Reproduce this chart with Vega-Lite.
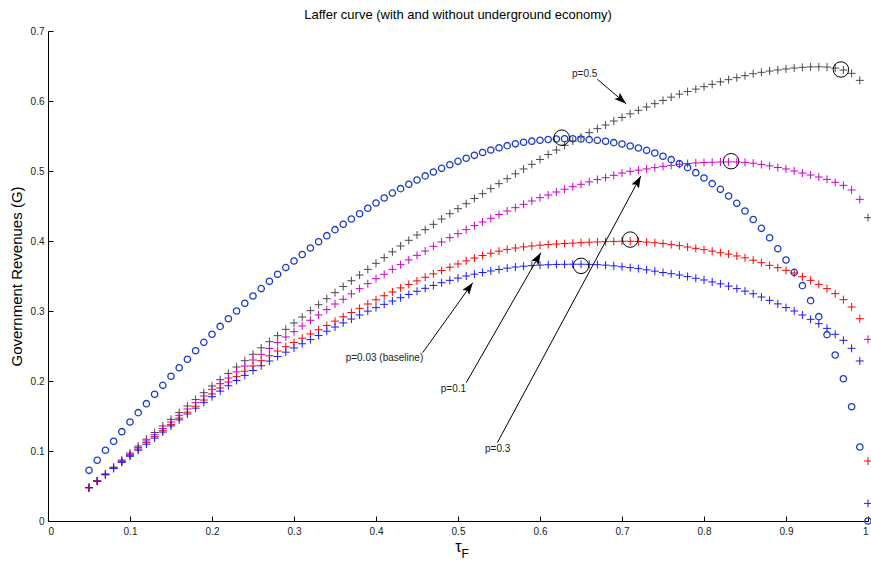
{
"$schema":"https://vega.github.io/schema/vega-lite/v6.json",
"width":820,"height":490,"autosize":"none",
"padding":{"left":48,"top":31,"right":3,"bottom":40},
"background":"white",
"config":{"view":{"stroke":null},"font":"Liberation Sans"},
"title":{"text":"Laffer curve (with and without underground economy)","fontSize":13,"fontWeight":"normal","font":"Liberation Sans","color":"#000000","offset":4,"anchor":"middle"},
"datasets":{
"series":[
{"s":"c","t":0.05,"g":0.0724},{"s":"c","t":0.06,"g":0.0867},{"s":"c","t":0.07,"g":0.1010},{"s":"c","t":0.08,"g":0.1140},{"s":"c","t":0.09,"g":0.1276},{"s":"c","t":0.10,"g":0.1414},{"s":"c","t":0.11,"g":0.1548},{"s":"c","t":0.12,"g":0.1676},{"s":"c","t":0.13,"g":0.1810},{"s":"c","t":0.14,"g":0.1938},
{"s":"c","t":0.15,"g":0.2067},{"s":"c","t":0.16,"g":0.2190},{"s":"c","t":0.17,"g":0.2310},{"s":"c","t":0.18,"g":0.2433},{"s":"c","t":0.19,"g":0.2552},{"s":"c","t":0.20,"g":0.2667},{"s":"c","t":0.21,"g":0.2780},{"s":"c","t":0.22,"g":0.2890},{"s":"c","t":0.23,"g":0.3000},{"s":"c","t":0.24,"g":0.3110},
{"s":"c","t":0.25,"g":0.3214},{"s":"c","t":0.26,"g":0.3320},{"s":"c","t":0.27,"g":0.3424},{"s":"c","t":0.28,"g":0.3524},{"s":"c","t":0.29,"g":0.3620},{"s":"c","t":0.30,"g":0.3714},{"s":"c","t":0.31,"g":0.3808},{"s":"c","t":0.32,"g":0.3900},{"s":"c","t":0.33,"g":0.3990},{"s":"c","t":0.34,"g":0.4076},
{"s":"c","t":0.35,"g":0.4162},{"s":"c","t":0.36,"g":0.4240},{"s":"c","t":0.37,"g":0.4314},{"s":"c","t":0.38,"g":0.4390},{"s":"c","t":0.39,"g":0.4467},{"s":"c","t":0.40,"g":0.4543},{"s":"c","t":0.41,"g":0.4614},{"s":"c","t":0.42,"g":0.4684},{"s":"c","t":0.43,"g":0.4748},{"s":"c","t":0.44,"g":0.4810},
{"s":"c","t":0.45,"g":0.4871},{"s":"c","t":0.46,"g":0.4930},{"s":"c","t":0.47,"g":0.4986},{"s":"c","t":0.48,"g":0.5038},{"s":"c","t":0.49,"g":0.5090},{"s":"c","t":0.50,"g":0.5138},{"s":"c","t":0.51,"g":0.5182},{"s":"c","t":0.52,"g":0.5224},{"s":"c","t":0.53,"g":0.5265},{"s":"c","t":0.54,"g":0.5300},
{"s":"c","t":0.55,"g":0.5333},{"s":"c","t":0.56,"g":0.5362},{"s":"c","t":0.57,"g":0.5388},{"s":"c","t":0.58,"g":0.5410},{"s":"c","t":0.59,"g":0.5426},{"s":"c","t":0.60,"g":0.5440},{"s":"c","t":0.61,"g":0.5450},{"s":"c","t":0.62,"g":0.5457},{"s":"c","t":0.63,"g":0.5460},{"s":"c","t":0.64,"g":0.5460},
{"s":"c","t":0.65,"g":0.5457},{"s":"c","t":0.66,"g":0.5448},{"s":"c","t":0.67,"g":0.5438},{"s":"c","t":0.68,"g":0.5424},{"s":"c","t":0.69,"g":0.5405},{"s":"c","t":0.70,"g":0.5386},{"s":"c","t":0.71,"g":0.5357},{"s":"c","t":0.72,"g":0.5329},{"s":"c","t":0.73,"g":0.5295},{"s":"c","t":0.74,"g":0.5257},
{"s":"c","t":0.75,"g":0.5210},{"s":"c","t":0.76,"g":0.5162},{"s":"c","t":0.77,"g":0.5105},{"s":"c","t":0.78,"g":0.5048},{"s":"c","t":0.79,"g":0.4976},{"s":"c","t":0.80,"g":0.4900},{"s":"c","t":0.81,"g":0.4819},{"s":"c","t":0.82,"g":0.4738},{"s":"c","t":0.83,"g":0.4643},{"s":"c","t":0.84,"g":0.4538},
{"s":"c","t":0.85,"g":0.4429},{"s":"c","t":0.86,"g":0.4308},{"s":"c","t":0.87,"g":0.4181},{"s":"c","t":0.88,"g":0.4046},{"s":"c","t":0.89,"g":0.3890},{"s":"c","t":0.90,"g":0.3729},{"s":"c","t":0.91,"g":0.3552},{"s":"c","t":0.92,"g":0.3362},{"s":"c","t":0.93,"g":0.3148},{"s":"c","t":0.94,"g":0.2919},
{"s":"c","t":0.95,"g":0.2662},{"s":"c","t":0.96,"g":0.2371},{"s":"c","t":0.97,"g":0.2033},{"s":"c","t":0.98,"g":0.1633},{"s":"c","t":0.99,"g":0.1057},{"s":"c","t":1.00,"g":0.0},

{"s":"p5","t":0.05,"g":0.0476},{"s":"p5","t":0.06,"g":0.0574},{"s":"p5","t":0.07,"g":0.0672},{"s":"p5","t":0.08,"g":0.0770},{"s":"p5","t":0.09,"g":0.0870},{"s":"p5","t":0.10,"g":0.0970},{"s":"p5","t":0.11,"g":0.1070},{"s":"p5","t":0.12,"g":0.1168},{"s":"p5","t":0.13,"g":0.1264},{"s":"p5","t":0.14,"g":0.1358},
{"s":"p5","t":0.15,"g":0.1452},{"s":"p5","t":0.16,"g":0.1548},{"s":"p5","t":0.17,"g":0.1643},{"s":"p5","t":0.18,"g":0.1735},{"s":"p5","t":0.19,"g":0.1833},{"s":"p5","t":0.20,"g":0.1929},{"s":"p5","t":0.21,"g":0.2019},{"s":"p5","t":0.22,"g":0.2108},{"s":"p5","t":0.23,"g":0.2200},{"s":"p5","t":0.24,"g":0.2290},
{"s":"p5","t":0.25,"g":0.2381},{"s":"p5","t":0.26,"g":0.2474},{"s":"p5","t":0.27,"g":0.2562},{"s":"p5","t":0.28,"g":0.2648},{"s":"p5","t":0.29,"g":0.2738},{"s":"p5","t":0.30,"g":0.2829},{"s":"p5","t":0.31,"g":0.2914},{"s":"p5","t":0.32,"g":0.3005},{"s":"p5","t":0.33,"g":0.3090},{"s":"p5","t":0.34,"g":0.3176},
{"s":"p5","t":0.35,"g":0.3262},{"s":"p5","t":0.36,"g":0.3350},{"s":"p5","t":0.37,"g":0.3432},{"s":"p5","t":0.38,"g":0.3514},{"s":"p5","t":0.39,"g":0.3595},{"s":"p5","t":0.40,"g":0.3681},{"s":"p5","t":0.41,"g":0.3762},{"s":"p5","t":0.42,"g":0.3845},{"s":"p5","t":0.43,"g":0.3929},{"s":"p5","t":0.44,"g":0.4010},
{"s":"p5","t":0.45,"g":0.4086},{"s":"p5","t":0.46,"g":0.4162},{"s":"p5","t":0.47,"g":0.4238},{"s":"p5","t":0.48,"g":0.4314},{"s":"p5","t":0.49,"g":0.4390},{"s":"p5","t":0.50,"g":0.4462},{"s":"p5","t":0.51,"g":0.4533},{"s":"p5","t":0.52,"g":0.4607},{"s":"p5","t":0.53,"g":0.4676},{"s":"p5","t":0.54,"g":0.4748},
{"s":"p5","t":0.55,"g":0.4819},{"s":"p5","t":0.56,"g":0.4890},{"s":"p5","t":0.57,"g":0.4960},{"s":"p5","t":0.58,"g":0.5029},{"s":"p5","t":0.59,"g":0.5095},{"s":"p5","t":0.60,"g":0.5165},{"s":"p5","t":0.61,"g":0.5236},{"s":"p5","t":0.62,"g":0.5300},{"s":"p5","t":0.63,"g":0.5367},{"s":"p5","t":0.64,"g":0.5429},
{"s":"p5","t":0.65,"g":0.5486},{"s":"p5","t":0.66,"g":0.5548},{"s":"p5","t":0.67,"g":0.5605},{"s":"p5","t":0.68,"g":0.5657},{"s":"p5","t":0.69,"g":0.5714},{"s":"p5","t":0.70,"g":0.5765},{"s":"p5","t":0.71,"g":0.5817},{"s":"p5","t":0.72,"g":0.5867},{"s":"p5","t":0.73,"g":0.5914},{"s":"p5","t":0.74,"g":0.5962},
{"s":"p5","t":0.75,"g":0.6008},{"s":"p5","t":0.76,"g":0.6055},{"s":"p5","t":0.77,"g":0.6098},{"s":"p5","t":0.78,"g":0.6135},{"s":"p5","t":0.79,"g":0.6170},{"s":"p5","t":0.80,"g":0.6205},{"s":"p5","t":0.81,"g":0.6238},{"s":"p5","t":0.82,"g":0.6274},{"s":"p5","t":0.83,"g":0.6305},{"s":"p5","t":0.84,"g":0.6333},
{"s":"p5","t":0.85,"g":0.6362},{"s":"p5","t":0.86,"g":0.6390},{"s":"p5","t":0.87,"g":0.6410},{"s":"p5","t":0.88,"g":0.6428},{"s":"p5","t":0.89,"g":0.6443},{"s":"p5","t":0.90,"g":0.6458},{"s":"p5","t":0.91,"g":0.6471},{"s":"p5","t":0.92,"g":0.6481},{"s":"p5","t":0.93,"g":0.6487},{"s":"p5","t":0.94,"g":0.6489},
{"s":"p5","t":0.95,"g":0.6485},{"s":"p5","t":0.96,"g":0.6470},{"s":"p5","t":0.97,"g":0.6442},{"s":"p5","t":0.98,"g":0.6395},{"s":"p5","t":0.99,"g":0.6295},{"s":"p5","t":1.00,"g":0.4333},

{"s":"p3","t":0.05,"g":0.0476},{"s":"p3","t":0.06,"g":0.0571},{"s":"p3","t":0.07,"g":0.0667},{"s":"p3","t":0.08,"g":0.0760},{"s":"p3","t":0.09,"g":0.0857},{"s":"p3","t":0.10,"g":0.0953},{"s":"p3","t":0.11,"g":0.1048},{"s":"p3","t":0.12,"g":0.1143},{"s":"p3","t":0.13,"g":0.1233},{"s":"p3","t":0.14,"g":0.1322},
{"s":"p3","t":0.15,"g":0.1414},{"s":"p3","t":0.16,"g":0.1510},{"s":"p3","t":0.17,"g":0.1600},{"s":"p3","t":0.18,"g":0.1690},{"s":"p3","t":0.19,"g":0.1786},{"s":"p3","t":0.20,"g":0.1881},{"s":"p3","t":0.21,"g":0.1962},{"s":"p3","t":0.22,"g":0.2042},{"s":"p3","t":0.23,"g":0.2130},{"s":"p3","t":0.24,"g":0.2214},
{"s":"p3","t":0.25,"g":0.2300},{"s":"p3","t":0.26,"g":0.2381},{"s":"p3","t":0.27,"g":0.2465},{"s":"p3","t":0.28,"g":0.2548},{"s":"p3","t":0.29,"g":0.2629},{"s":"p3","t":0.30,"g":0.2705},{"s":"p3","t":0.31,"g":0.2786},{"s":"p3","t":0.32,"g":0.2867},{"s":"p3","t":0.33,"g":0.2943},{"s":"p3","t":0.34,"g":0.3019},
{"s":"p3","t":0.35,"g":0.3100},{"s":"p3","t":0.36,"g":0.3167},{"s":"p3","t":0.37,"g":0.3245},{"s":"p3","t":0.38,"g":0.3319},{"s":"p3","t":0.39,"g":0.3390},{"s":"p3","t":0.40,"g":0.3462},{"s":"p3","t":0.41,"g":0.3524},{"s":"p3","t":0.42,"g":0.3595},{"s":"p3","t":0.43,"g":0.3662},{"s":"p3","t":0.44,"g":0.3730},
{"s":"p3","t":0.45,"g":0.3795},{"s":"p3","t":0.46,"g":0.3857},{"s":"p3","t":0.47,"g":0.3924},{"s":"p3","t":0.48,"g":0.3986},{"s":"p3","t":0.49,"g":0.4048},{"s":"p3","t":0.50,"g":0.4105},{"s":"p3","t":0.51,"g":0.4162},{"s":"p3","t":0.52,"g":0.4219},{"s":"p3","t":0.53,"g":0.4271},{"s":"p3","t":0.54,"g":0.4324},
{"s":"p3","t":0.55,"g":0.4378},{"s":"p3","t":0.56,"g":0.4429},{"s":"p3","t":0.57,"g":0.4476},{"s":"p3","t":0.58,"g":0.4524},{"s":"p3","t":0.59,"g":0.4571},{"s":"p3","t":0.60,"g":0.4619},{"s":"p3","t":0.61,"g":0.4657},{"s":"p3","t":0.62,"g":0.4700},{"s":"p3","t":0.63,"g":0.4740},{"s":"p3","t":0.64,"g":0.4776},
{"s":"p3","t":0.65,"g":0.4810},{"s":"p3","t":0.66,"g":0.4845},{"s":"p3","t":0.67,"g":0.4878},{"s":"p3","t":0.68,"g":0.4905},{"s":"p3","t":0.69,"g":0.4938},{"s":"p3","t":0.70,"g":0.4971},{"s":"p3","t":0.71,"g":0.4995},{"s":"p3","t":0.72,"g":0.5012},{"s":"p3","t":0.73,"g":0.5030},{"s":"p3","t":0.74,"g":0.5048},
{"s":"p3","t":0.75,"g":0.5066},{"s":"p3","t":0.76,"g":0.5081},{"s":"p3","t":0.77,"g":0.5095},{"s":"p3","t":0.78,"g":0.5107},{"s":"p3","t":0.79,"g":0.5115},{"s":"p3","t":0.80,"g":0.5121},{"s":"p3","t":0.81,"g":0.5126},{"s":"p3","t":0.82,"g":0.5129},{"s":"p3","t":0.83,"g":0.5130},{"s":"p3","t":0.84,"g":0.5128},
{"s":"p3","t":0.85,"g":0.5123},{"s":"p3","t":0.86,"g":0.5112},{"s":"p3","t":0.87,"g":0.5092},{"s":"p3","t":0.88,"g":0.5073},{"s":"p3","t":0.89,"g":0.5050},{"s":"p3","t":0.90,"g":0.5029},{"s":"p3","t":0.91,"g":0.5000},{"s":"p3","t":0.92,"g":0.4971},{"s":"p3","t":0.93,"g":0.4943},{"s":"p3","t":0.94,"g":0.4914},
{"s":"p3","t":0.95,"g":0.4881},{"s":"p3","t":0.96,"g":0.4838},{"s":"p3","t":0.97,"g":0.4795},{"s":"p3","t":0.98,"g":0.4729},{"s":"p3","t":0.99,"g":0.4595},{"s":"p3","t":1.00,"g":0.2595},

{"s":"p1","t":0.05,"g":0.0476},{"s":"p1","t":0.06,"g":0.0570},{"s":"p1","t":0.07,"g":0.0663},{"s":"p1","t":0.08,"g":0.0755},{"s":"p1","t":0.09,"g":0.0846},{"s":"p1","t":0.10,"g":0.0938},{"s":"p1","t":0.11,"g":0.1028},{"s":"p1","t":0.12,"g":0.1119},{"s":"p1","t":0.13,"g":0.1205},{"s":"p1","t":0.14,"g":0.1290},
{"s":"p1","t":0.15,"g":0.1380},{"s":"p1","t":0.16,"g":0.1470},{"s":"p1","t":0.17,"g":0.1555},{"s":"p1","t":0.18,"g":0.1640},{"s":"p1","t":0.19,"g":0.1728},{"s":"p1","t":0.20,"g":0.1815},{"s":"p1","t":0.21,"g":0.1900},{"s":"p1","t":0.22,"g":0.1985},{"s":"p1","t":0.23,"g":0.2062},{"s":"p1","t":0.24,"g":0.2140},
{"s":"p1","t":0.25,"g":0.2215},{"s":"p1","t":0.26,"g":0.2290},{"s":"p1","t":0.27,"g":0.2360},{"s":"p1","t":0.28,"g":0.2428},{"s":"p1","t":0.29,"g":0.2490},{"s":"p1","t":0.30,"g":0.2550},{"s":"p1","t":0.31,"g":0.2612},{"s":"p1","t":0.32,"g":0.2672},{"s":"p1","t":0.33,"g":0.2732},{"s":"p1","t":0.34,"g":0.2792},
{"s":"p1","t":0.35,"g":0.2855},{"s":"p1","t":0.36,"g":0.2918},{"s":"p1","t":0.37,"g":0.2978},{"s":"p1","t":0.38,"g":0.3038},{"s":"p1","t":0.39,"g":0.3100},{"s":"p1","t":0.40,"g":0.3160},{"s":"p1","t":0.41,"g":0.3218},{"s":"p1","t":0.42,"g":0.3272},{"s":"p1","t":0.43,"g":0.3330},{"s":"p1","t":0.44,"g":0.3380},
{"s":"p1","t":0.45,"g":0.3430},{"s":"p1","t":0.46,"g":0.3482},{"s":"p1","t":0.47,"g":0.3530},{"s":"p1","t":0.48,"g":0.3578},{"s":"p1","t":0.49,"g":0.3625},{"s":"p1","t":0.50,"g":0.3672},{"s":"p1","t":0.51,"g":0.3716},{"s":"p1","t":0.52,"g":0.3756},{"s":"p1","t":0.53,"g":0.3792},{"s":"p1","t":0.54,"g":0.3825},
{"s":"p1","t":0.55,"g":0.3855},{"s":"p1","t":0.56,"g":0.3880},{"s":"p1","t":0.57,"g":0.3900},{"s":"p1","t":0.58,"g":0.3916},{"s":"p1","t":0.59,"g":0.3929},{"s":"p1","t":0.60,"g":0.3940},{"s":"p1","t":0.61,"g":0.3949},{"s":"p1","t":0.62,"g":0.3957},{"s":"p1","t":0.63,"g":0.3964},{"s":"p1","t":0.64,"g":0.3970},
{"s":"p1","t":0.65,"g":0.3976},{"s":"p1","t":0.66,"g":0.3982},{"s":"p1","t":0.67,"g":0.3987},{"s":"p1","t":0.68,"g":0.3991},{"s":"p1","t":0.69,"g":0.3994},{"s":"p1","t":0.70,"g":0.3996},{"s":"p1","t":0.71,"g":0.3996},{"s":"p1","t":0.72,"g":0.3993},{"s":"p1","t":0.73,"g":0.3985},{"s":"p1","t":0.74,"g":0.3975},
{"s":"p1","t":0.75,"g":0.3963},{"s":"p1","t":0.76,"g":0.3948},{"s":"p1","t":0.77,"g":0.3933},{"s":"p1","t":0.78,"g":0.3914},{"s":"p1","t":0.79,"g":0.3895},{"s":"p1","t":0.80,"g":0.3876},{"s":"p1","t":0.81,"g":0.3855},{"s":"p1","t":0.82,"g":0.3833},{"s":"p1","t":0.83,"g":0.3812},{"s":"p1","t":0.84,"g":0.3786},
{"s":"p1","t":0.85,"g":0.3760},{"s":"p1","t":0.86,"g":0.3726},{"s":"p1","t":0.87,"g":0.3690},{"s":"p1","t":0.88,"g":0.3652},{"s":"p1","t":0.89,"g":0.3619},{"s":"p1","t":0.90,"g":0.3581},{"s":"p1","t":0.91,"g":0.3543},{"s":"p1","t":0.92,"g":0.3490},{"s":"p1","t":0.93,"g":0.3438},{"s":"p1","t":0.94,"g":0.3381},
{"s":"p1","t":0.95,"g":0.3319},{"s":"p1","t":0.96,"g":0.3248},{"s":"p1","t":0.97,"g":0.3162},{"s":"p1","t":0.98,"g":0.3057},{"s":"p1","t":0.99,"g":0.2890},{"s":"p1","t":1.00,"g":0.0857},

{"s":"p03","t":0.05,"g":0.0476},{"s":"p03","t":0.06,"g":0.0568},{"s":"p03","t":0.07,"g":0.0660},{"s":"p03","t":0.08,"g":0.0750},{"s":"p03","t":0.09,"g":0.0838},{"s":"p03","t":0.10,"g":0.0925},{"s":"p03","t":0.11,"g":0.1011},{"s":"p03","t":0.12,"g":0.1097},{"s":"p03","t":0.13,"g":0.1184},{"s":"p03","t":0.14,"g":0.1270},
{"s":"p03","t":0.15,"g":0.1358},{"s":"p03","t":0.16,"g":0.1445},{"s":"p03","t":0.17,"g":0.1529},{"s":"p03","t":0.18,"g":0.1612},{"s":"p03","t":0.19,"g":0.1695},{"s":"p03","t":0.20,"g":0.1776},{"s":"p03","t":0.21,"g":0.1855},{"s":"p03","t":0.22,"g":0.1932},{"s":"p03","t":0.23,"g":0.2007},{"s":"p03","t":0.24,"g":0.2080},
{"s":"p03","t":0.25,"g":0.2150},{"s":"p03","t":0.26,"g":0.2218},{"s":"p03","t":0.27,"g":0.2285},{"s":"p03","t":0.28,"g":0.2350},{"s":"p03","t":0.29,"g":0.2412},{"s":"p03","t":0.30,"g":0.2472},{"s":"p03","t":0.31,"g":0.2532},{"s":"p03","t":0.32,"g":0.2591},{"s":"p03","t":0.33,"g":0.2649},{"s":"p03","t":0.34,"g":0.2711},
{"s":"p03","t":0.35,"g":0.2771},{"s":"p03","t":0.36,"g":0.2830},{"s":"p03","t":0.37,"g":0.2885},{"s":"p03","t":0.38,"g":0.2943},{"s":"p03","t":0.39,"g":0.2998},{"s":"p03","t":0.40,"g":0.3048},{"s":"p03","t":0.41,"g":0.3095},{"s":"p03","t":0.42,"g":0.3143},{"s":"p03","t":0.43,"g":0.3190},{"s":"p03","t":0.44,"g":0.3236},
{"s":"p03","t":0.45,"g":0.3282},{"s":"p03","t":0.46,"g":0.3324},{"s":"p03","t":0.47,"g":0.3366},{"s":"p03","t":0.48,"g":0.3404},{"s":"p03","t":0.49,"g":0.3438},{"s":"p03","t":0.50,"g":0.3470},{"s":"p03","t":0.51,"g":0.3500},{"s":"p03","t":0.52,"g":0.3526},{"s":"p03","t":0.53,"g":0.3550},{"s":"p03","t":0.54,"g":0.3572},
{"s":"p03","t":0.55,"g":0.3593},{"s":"p03","t":0.56,"g":0.3612},{"s":"p03","t":0.57,"g":0.3628},{"s":"p03","t":0.58,"g":0.3640},{"s":"p03","t":0.59,"g":0.3649},{"s":"p03","t":0.60,"g":0.3656},{"s":"p03","t":0.61,"g":0.3661},{"s":"p03","t":0.62,"g":0.3665},{"s":"p03","t":0.63,"g":0.3667},{"s":"p03","t":0.64,"g":0.3668},
{"s":"p03","t":0.65,"g":0.3668},{"s":"p03","t":0.66,"g":0.3666},{"s":"p03","t":0.67,"g":0.3662},{"s":"p03","t":0.68,"g":0.3655},{"s":"p03","t":0.69,"g":0.3645},{"s":"p03","t":0.70,"g":0.3632},{"s":"p03","t":0.71,"g":0.3620},{"s":"p03","t":0.72,"g":0.3606},{"s":"p03","t":0.73,"g":0.3588},{"s":"p03","t":0.74,"g":0.3569},
{"s":"p03","t":0.75,"g":0.3550},{"s":"p03","t":0.76,"g":0.3533},{"s":"p03","t":0.77,"g":0.3514},{"s":"p03","t":0.78,"g":0.3491},{"s":"p03","t":0.79,"g":0.3467},{"s":"p03","t":0.80,"g":0.3443},{"s":"p03","t":0.81,"g":0.3415},{"s":"p03","t":0.82,"g":0.3388},{"s":"p03","t":0.83,"g":0.3355},{"s":"p03","t":0.84,"g":0.3320},
{"s":"p03","t":0.85,"g":0.3284},{"s":"p03","t":0.86,"g":0.3246},{"s":"p03","t":0.87,"g":0.3200},{"s":"p03","t":0.88,"g":0.3152},{"s":"p03","t":0.89,"g":0.3102},{"s":"p03","t":0.90,"g":0.3048},{"s":"p03","t":0.91,"g":0.3000},{"s":"p03","t":0.92,"g":0.2943},{"s":"p03","t":0.93,"g":0.2881},{"s":"p03","t":0.94,"g":0.2819},
{"s":"p03","t":0.95,"g":0.2752},{"s":"p03","t":0.96,"g":0.2667},{"s":"p03","t":0.97,"g":0.2581},{"s":"p03","t":0.98,"g":0.2467},{"s":"p03","t":0.99,"g":0.2286},{"s":"p03","t":1.00,"g":0.0252}
],
"peaks":[{"t":0.6265,"g":0.5476},{"t":0.650,"g":0.3645},{"t":0.710,"g":0.4020},{"t":0.833,"g":0.5140},{"t":0.967,"g":0.6450}],
"notes":[{"t":0.639,"g":0.639,"label":"p=0.5"},{"t":0.363,"g":0.2333,"label":"p=0.03 (baseline)"},{"t":0.479,"g":0.189,"label":"p=0.1"},{"t":0.533,"g":0.1024,"label":"p=0.3"}],
"arrows":[{"t1":0.670,"g1":0.631,"t2":0.705,"g2":0.596,"a":131},{"t1":0.457,"g1":0.2405,"t2":0.518,"g2":0.3405,"a":35.5},{"t1":0.510,"g1":0.1976,"t2":0.601,"g2":0.3833,"a":30},{"t1":0.548,"g1":0.1119,"t2":0.723,"g2":0.4929,"a":28.3}],
"sub":[{"t":0.5042,"g":-0.0465,"label":"F"}]
},
"layer":[
{"data":{"name":"series"},"transform":[{"filter":"datum.s !== 'c'"}],
 "mark":{"type":"point","shape":"M-1,0L1,0M0,-1L0,1","filled":false,"size":64,"strokeWidth":1,"opacity":1},
 "encoding":{
  "x":{"field":"t","type":"quantitative","scale":{"domain":[0,1],"nice":false,"zero":false},
   "axis":{"values":[0,0.1,0.2,0.3,0.4,0.5,0.6,0.7,0.8,0.9,1],"format":"~g","grid":false,"domainColor":"#000000","tickColor":"#000000","tickSize":-5,"labelFontSize":10,"labelColor":"#222222","labelPadding":10,"labelFont":"Liberation Sans","title":"τ","titleFontSize":16,"titleFontWeight":"normal","titleColor":"#000000","titleFont":"Liberation Sans","titlePadding":2}},
  "y":{"field":"g","type":"quantitative","scale":{"domain":[0,0.7],"nice":false,"zero":false},
   "axis":{"values":[0,0.1,0.2,0.3,0.4,0.5,0.6,0.7],"format":"~g","grid":false,"domainColor":"#000000","tickColor":"#000000","tickSize":-5,"labelFontSize":10,"labelColor":"#222222","labelPadding":9,"labelFont":"Liberation Sans","title":"Government Revenues (G)","titleFontSize":15,"titleFontWeight":"normal","titleColor":"#000000","titleFont":"Liberation Sans","titlePadding":6}},
  "color":{"field":"s","type":"nominal","scale":{"domain":["p5","p3","p1","p03"],"range":["#4a4a4a","#cc00cc","#ff0000","#1a1aff"]},"legend":null}
 }},
{"data":{"name":"series"},"transform":[{"filter":"datum.s === 'c'"}],
 "mark":{"type":"point","shape":"circle","filled":false,"size":40,"strokeWidth":1.3,"color":"#1a3ac8","opacity":1},
 "encoding":{"x":{"field":"t","type":"quantitative"},"y":{"field":"g","type":"quantitative"}}},
{"data":{"name":"peaks"},
 "mark":{"type":"point","shape":"circle","filled":false,"size":240,"strokeWidth":1,"color":"#000000","opacity":1},
 "encoding":{"x":{"field":"t","type":"quantitative"},"y":{"field":"g","type":"quantitative"}}},
{"data":{"name":"arrows"},
 "mark":{"type":"rule","color":"#000000","strokeWidth":1},
 "encoding":{"x":{"field":"t1","type":"quantitative"},"y":{"field":"g1","type":"quantitative"},"x2":{"field":"t2"},"y2":{"field":"g2"}}},
{"data":{"name":"arrows"},
 "mark":{"type":"point","shape":"M0,0L-0.35,1L0,0.8L0.35,1Z","filled":true,"size":576,"color":"#000000","opacity":1,"strokeWidth":0},
 "encoding":{"x":{"field":"t2","type":"quantitative"},"y":{"field":"g2","type":"quantitative"},"angle":{"field":"a","type":"quantitative","scale":null}}},
{"data":{"name":"notes"},
 "mark":{"type":"text","align":"left","baseline":"middle","fontSize":10,"font":"Liberation Sans","color":"#222222"},
 "encoding":{"x":{"field":"t","type":"quantitative"},"y":{"field":"g","type":"quantitative"},"text":{"field":"label"}}},
{"data":{"name":"sub"},
 "mark":{"type":"text","align":"left","baseline":"middle","fontSize":12,"font":"Liberation Sans","color":"#000000"},
 "encoding":{"x":{"field":"t","type":"quantitative"},"y":{"field":"g","type":"quantitative"},"text":{"field":"label"}}}
]
}
